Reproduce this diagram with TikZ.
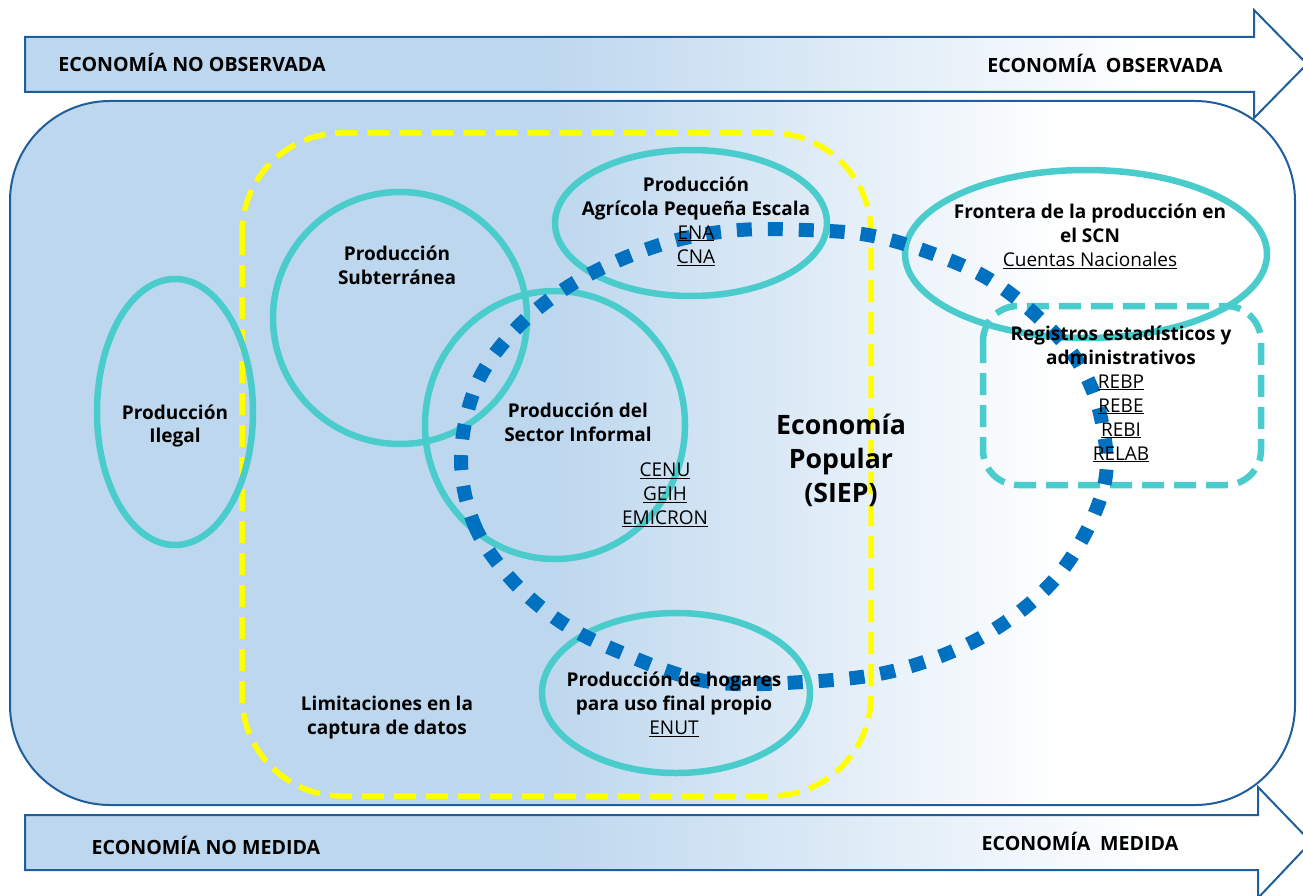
\documentclass[tikz,border=0pt]{standalone}
\usepackage{fontspec}
\setmainfont{Open Sans}
\definecolor{cA}{HTML}{BDD7EE}
\definecolor{dblue}{HTML}{1F5E9C}
\definecolor{tealc}{HTML}{4BCCCC}
\definecolor{ylw}{HTML}{FFFF00}
\definecolor{dotc}{HTML}{0070C0}
\pgfdeclarehorizontalshading{mainfade}{100bp}{color(0bp)=(cA); color(46bp)=(cA); color(66bp)=(white); color(100bp)=(white)}
\pgfdeclarehorizontalshading{arrowfade}{100bp}{color(0bp)=(cA); color(45bp)=(cA); color(69bp)=(white); color(100bp)=(white)}
\newcommand\srcu[1]{\underline{\mdseries #1}}
\tikzset{
  lbl/.style={align=center, inner sep=0pt, font=\fontsize{19}{24}\selectfont\bfseries},
  biglbl/.style={align=center, inner sep=0pt, font=\fontsize{26.7}{34}\selectfont\bfseries},
  arrlbl/.style={inner sep=0pt, font=\fontsize{19.6}{22}\selectfont\bfseries},
  bigarrow/.style={draw=dblue, line width=2pt, shading=arrowfade},
  ring/.style={draw=tealc, line width=6.5pt},
}
\begin{document}
\begin{tikzpicture}[x=1pt,y=-1pt]
\useasboundingbox (0,0) rectangle (1303,896);
% arrows
\shadedraw[bigarrow] (25,37) -- (1254,37) -- (1254,10) -- (1307,64) -- (1254,118) -- (1254,92) -- (25,92) -- cycle;
\shadedraw[bigarrow] (25,815) -- (1258,815) -- (1258,787) -- (1311,842) -- (1258,898) -- (1258,870) -- (25,870) -- cycle;
% main rounded area
\shadedraw[draw=dblue, line width=2pt, shading=mainfade, rounded corners=100pt] (10,101) rectangle (1295,805);
% yellow dashed region
\draw[ylw, line width=5.5pt, dash pattern=on 22pt off 10pt, rounded corners=100pt] (242,133) rectangle (871,796);
% teal ellipses
\draw[ring] (175,412) ellipse [x radius=78, y radius=133];
\draw[ring] (400,318) ellipse [x radius=127, y radius=126];
\draw[ring] (555,425) ellipse [x radius=130, y radius=134];
\draw[ring] (691,223) ellipse [x radius=136, y radius=73];
\draw[ring] (1086,254) ellipse [x radius=181, y radius=84];
\draw[ring] (676,693) ellipse [x radius=134, y radius=80];
% teal dashed registros box
\draw[tealc, line width=6.5pt, dash pattern=on 22pt off 10pt, rounded corners=35pt] (983,306) rectangle (1261,485);
% blue dotted loop
\draw[dotc, line width=14pt, dash pattern=on 15pt off 16pt] plot[smooth cycle, tension=0.6] coordinates {
 (461,457) (474,524) (510,578) (558,620) (615,650) (705,681) (803,682) (897,670) (987,634) (1060,573) (1103,490) (1102,423) (1080,365) (1038,317) (987,278) (928,252) (868,235) (805,230) (740,230) (677,240) (615,262) (560,292) (512,333) (476,386)};
% arrow labels
\node[arrlbl] (tNO) at (192,62) {ECONOMÍA NO OBSERVADA};
\node[arrlbl] (tO) at (1105,63) {ECONOMÍA\hspace{0.5em}OBSERVADA};
\node[arrlbl] (bNM) at (206,845) {ECONOMÍA NO MEDIDA};
\node[arrlbl] (bM) at (1080,841) {ECONOMÍA\hspace{0.5em}MEDIDA};
% labels
\node[lbl] (ilegal) at (175,426) {Producción\\Ilegal};
\node[lbl] (subt) at (397,265) {Producción\\Subterránea};
\node[lbl] (inf) at (578,422) {Producción del\\Sector Informal};
\node[lbl] (infsrc) at (665,495) {\srcu{CENU}\\\srcu{GEIH}\\\srcu{EMICRON}};
\node[lbl] (agr) at (696,221) {Producción\\Agrícola Pequeña Escala\\\srcu{ENA}\\\srcu{CNA}};
\node[biglbl] (siep) at (841,460) {Economía\\Popular\\(SIEP)};
\node[lbl] (front) at (1090,236) {Frontera de la producción en\\el SCN\\\srcu{Cuentas Nacionales}};
\node[lbl] (reg) at (1121,394) {Registros estadísticos y\\administrativos\\\srcu{REBP}\\\srcu{REBE}\\\srcu{REBI}\\\srcu{RELAB}};
\node[lbl] (lim) at (387,718) {Limitaciones en la\\captura de datos};
\node[lbl] (hog) at (674,704) {Producción de hogares\\para uso final propio\\\srcu{ENUT}};
\end{tikzpicture}
\end{document}
